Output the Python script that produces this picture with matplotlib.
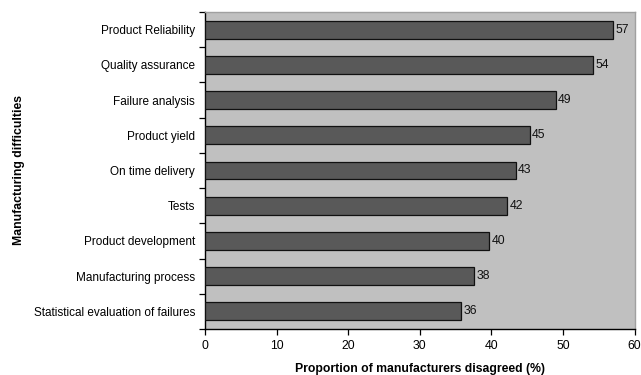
import matplotlib
matplotlib.use("Agg")
import matplotlib.pyplot as plt
import numpy as np

plt.rcParams['font.family'] = ['Liberation Sans', 'DejaVu Sans']

categories = [
    "Product Reliability",
    "Quality assurance",
    "Failure analysis",
    "Product yield",
    "On time delivery",
    "Tests",
    "Product development",
    "Manufacturing process",
    "Statistical evaluation of failures",
]
values = [57.0, 54.2, 49.0, 45.4, 43.4, 42.2, 39.7, 37.6, 35.8]
x_ticks = [0, 10, 20, 30, 40, 50, 60]

FS = 8.5

fig = plt.figure(figsize=(6.41, 3.75), dpi=100)
ax = fig.add_axes([205.3 / 641, 1 - 329 / 375, (634.5 - 205.3) / 641, (329 - 12) / 375])
ax.set_facecolor("#c0c0c0")

n = len(categories)
pos = np.arange(n)[::-1]
ax.barh(pos, values, height=0.51, color="#595959", edgecolor="#111111", linewidth=0.9, zorder=3)
for p, v in zip(pos, values):
    ax.text(v + 0.3, p, f"{v:.0f}", va="center", ha="left", fontsize=8.8, color="#111111")

ax.set_xlim(0, 60)
ax.set_ylim(-0.5, n - 0.5)
ax.set_xticks(x_ticks)
ax.set_xticklabels([str(t) for t in x_ticks], fontsize=8.8)
ax.set_yticks(pos)
ax.set_yticklabels(categories, fontsize=FS)
ax.tick_params(axis="y", length=0, pad=7.5)
ax.set_yticks(np.arange(n + 1) - 0.5, minor=True)
ax.tick_params(axis="y", which="minor", length=4, width=0.9, direction="out", color="black")
ax.tick_params(axis="x", length=4, width=0.9, direction="out", pad=4, color="black")

for side in ("left", "bottom"):
    ax.spines[side].set_color("black")
    ax.spines[side].set_linewidth(1.0)
for side in ("top", "right"):
    ax.spines[side].set_color("#a0a0a0")
    ax.spines[side].set_linewidth(1.0)

ax.set_xlabel("Proportion of manufacturers disagreed (%)", fontsize=8.8, fontweight="bold", labelpad=8)
ax.set_ylabel("Manufacturing difficulties", fontsize=8.8, fontweight="bold")
ax.yaxis.set_label_coords(-(205.3 - 25.5) / (634.5 - 205.3), 0.5)

fig.savefig("out.png", dpi=100, facecolor="white")
